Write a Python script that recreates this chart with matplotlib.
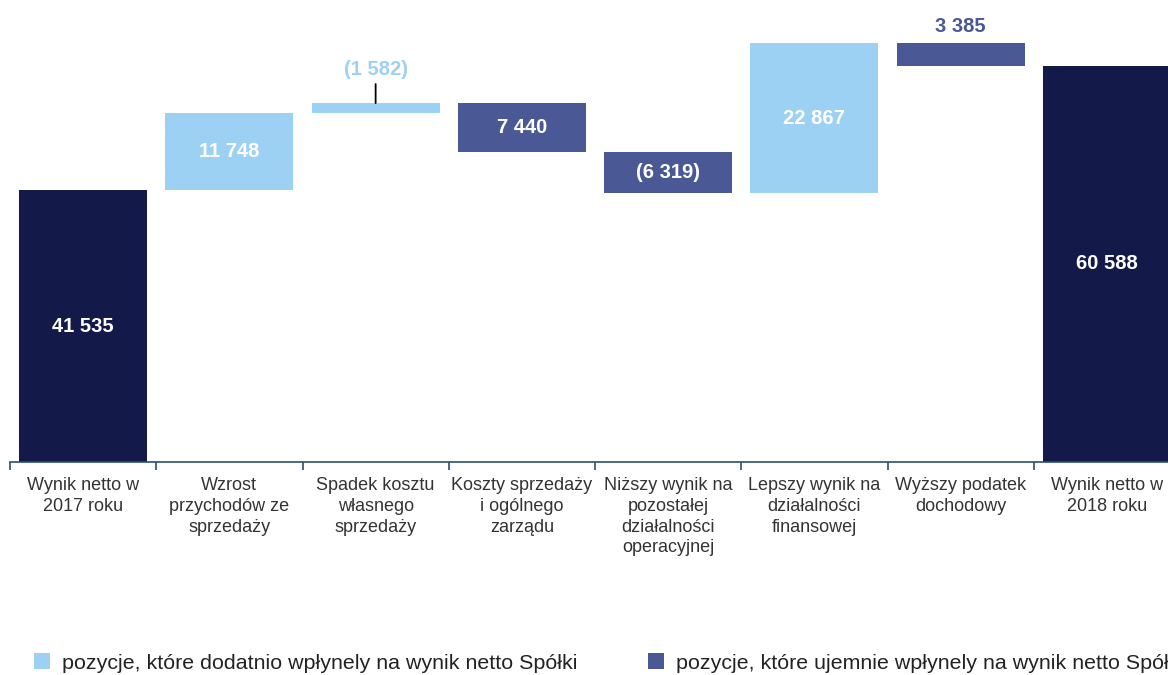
import numpy as np
import matplotlib.pyplot as plt
from matplotlib.patches import Patch

plt.rcParams['font.family'] = ['Liberation Sans', 'DejaVu Sans']

categories = ['Wynik netto w\n2017 roku', 'Wzrost\nprzychodów ze\nsprzedaży',
              'Spadek kosztu\nwłasnego\nsprzedaży', 'Koszty sprzedaży\ni ogólnego\nzarządu',
              'Niższy wynik na\npozostałej\ndziałalności\noperacyjnej',
              'Lepszy wynik na\ndziałalności\nfinansowej', 'Wyższy podatek\ndochodowy',
              'Wynik netto w\n2018 roku']
# signed effect on net result (first and last are totals)
changes = [41535, 11748, 1582, -7440, -6319, 22867, -3385, 60588]
value_labels = ['41 535', '11 748', '(1 582)', '7 440', '(6 319)', '22 867', '3 385', '60 588']
kinds = ['total', 'pos', 'pos', 'neg', 'neg', 'pos', 'neg', 'total']

c_total = '#131a4a'
c_pos = '#9dd1f3'
c_neg = '#4a5995'
colors = {'total': c_total, 'pos': c_pos, 'neg': c_neg}

fig = plt.figure(figsize=(11.68, 6.75), dpi=100)
ax = fig.add_axes([10 / 1168, 213 / 675, 1170 / 1168, 458 / 675])

x = np.arange(len(categories))
bottoms, heights = [], []
running = 0
for v, k in zip(changes, kinds):
    if k == 'total':
        bottoms.append(0)
        heights.append(v)
        running = v
    else:
        lo = min(running, running + v)
        bottoms.append(lo)
        heights.append(abs(v))
        running += v

ax.bar(x, heights, bottom=bottoms, width=0.875,
       color=[colors[k] for k in kinds], linewidth=0)

for i, (b, h, lab) in enumerate(zip(bottoms, heights, value_labels)):
    if h > 5000:
        ax.text(i, b + h / 2, lab, ha='center', va='center', color='white',
                fontsize=14.5, fontweight='bold')

# small bars get their label above
top3 = bottoms[2] + heights[2]
ax.annotate('', xy=(2, top3), xytext=(2, top3 + 2900),
            arrowprops=dict(arrowstyle='-', color='black', lw=1.3,
                            shrinkA=0, shrinkB=0))
ax.text(2, top3 + 5200, value_labels[2], ha='center', va='center',
        color=c_pos, fontsize=14.5, fontweight='bold')
top7 = bottoms[6] + heights[6]
ax.text(6, top7 + 2600, value_labels[6], ha='center', va='center',
        color=c_neg, fontsize=14.5, fontweight='bold')

ax.set_xlim(-0.5, 7.5)
ax.set_ylim(0, 70000)
for s in ['top', 'right', 'left']:
    ax.spines[s].set_visible(False)
ax.spines['bottom'].set_color('#2b4f6b')
ax.spines['bottom'].set_linewidth(1.2)
ax.set_yticks([])
ax.set_xticks(np.arange(-0.5, 8, 1))
ax.set_xticklabels([])
ax.tick_params(axis='x', length=6, width=1.2, color='#2b4f6b', direction='out')
ax.set_xticks(x, minor=True)
ax.set_xticklabels(categories, minor=True, fontsize=13, color='#333333')
for t in ax.get_xticklabels(minor=True):
    t.set_linespacing(1.28)
ax.tick_params(axis='x', which='minor', length=0, pad=11)

handles = [Patch(facecolor=c_pos, label='pozycje, które dodatnio wpłynely na wynik netto Spółki'),
           Patch(facecolor=c_neg, label='pozycje, które ujemnie wpłynely na wynik netto Spółki')]
fig.legend(handles=handles, loc='center left', bbox_to_anchor=(34 / 1168, 12 / 675),
           ncol=2, frameon=False, fontsize=15.4, handlelength=0.75,
           handleheight=0.75, handletextpad=0.55, columnspacing=3.3,
           borderpad=0, borderaxespad=0, labelcolor='#222222')

fig.savefig('out.png', dpi=100)
